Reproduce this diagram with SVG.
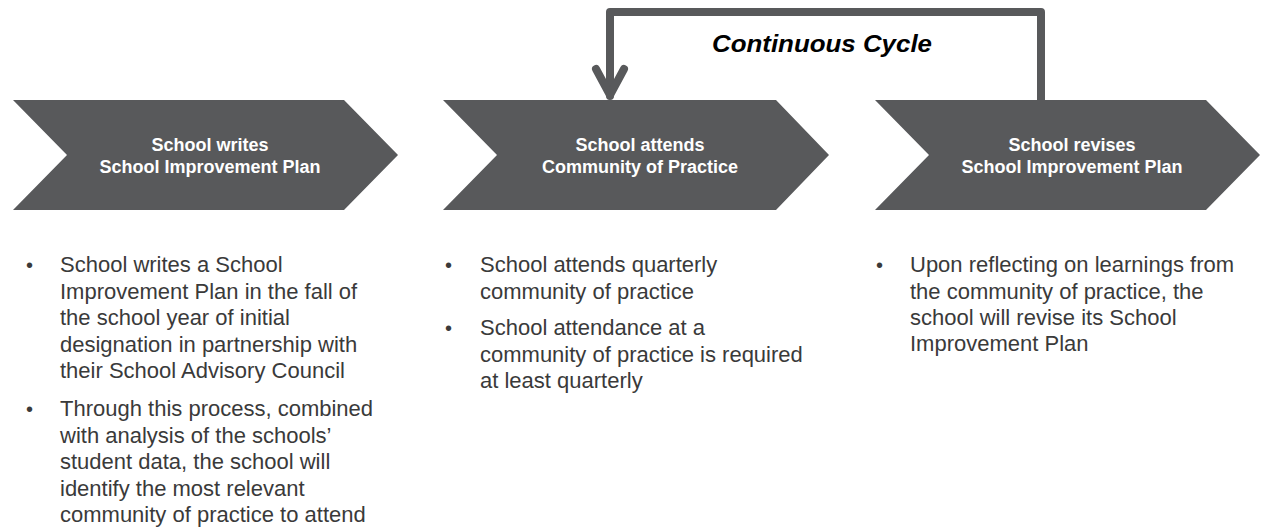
<svg xmlns="http://www.w3.org/2000/svg" width="1261" height="527" viewBox="0 0 1261 527">
<style>
.chev{fill:#58595b;}
.ct{font-family:"Liberation Sans",Arial,sans-serif;font-weight:bold;font-size:18px;fill:#ffffff;text-anchor:middle;}
.bt{font-family:"Liberation Sans",Arial,sans-serif;font-size:22px;fill:#3a3a3a;}
.bl{font-family:"Liberation Sans",Arial,sans-serif;font-size:20px;fill:#3a3a3a;}
.cyc{font-family:"Liberation Sans",Arial,sans-serif;font-weight:bold;font-style:italic;font-size:23px;fill:#000000;}
.conn{fill:none;stroke:#58595b;stroke-width:8;stroke-linejoin:round;stroke-linecap:round;}
</style>
<rect width="1261" height="527" fill="#ffffff"/>
<g id="connectors">
<path class="conn" d="M1041,100 V12 H610 V96"/>
<path class="conn" d="M596,69 L610,95 L624,69"/>
<text class="cyc" x="712" y="52" textLength="220" lengthAdjust="spacingAndGlyphs">Continuous Cycle</text>
</g>
<g id="node1">
<polygon class="chev" points="13,100 344,100 398,155 344,210 13,210 67,155"/>
<text class="ct" x="210" y="151">School writes</text>
<text class="ct" x="210" y="173">School Improvement Plan</text>
</g>
<g id="node2">
<polygon class="chev" points="443,100 776,100 829,155 776,210 443,210 497,155"/>
<text class="ct" x="640" y="151">School attends</text>
<text class="ct" x="640" y="173">Community of Practice</text>
</g>
<g id="node3">
<polygon class="chev" points="875,100 1206,100 1260,155 1206,210 875,210 929,155"/>
<text class="ct" x="1072" y="151">School revises</text>
<text class="ct" x="1072" y="173">School Improvement Plan</text>
</g>
<g id="text1">
<text class="bl" x="26" y="272">•</text>
<text class="bt" x="60" y="272">School writes a School</text>
<text class="bt" x="60" y="299">Improvement  Plan in the fall of</text>
<text class="bt" x="60" y="325">the school year of initial</text>
<text class="bt" x="60" y="352">designation in partnership with</text>
<text class="bt" x="60" y="378">their School Advisory Council</text>
<text class="bl" x="26" y="416">•</text>
<text class="bt" x="60" y="416">Through this process, combined</text>
<text class="bt" x="60" y="443">with analysis of the schools’</text>
<text class="bt" x="60" y="469">student data, the school will</text>
<text class="bt" x="60" y="496">identify the most relevant</text>
<text class="bt" x="60" y="522">community of practice to attend</text>
</g>
<g id="text2">
<text class="bl" x="445" y="272">•</text>
<text class="bt" x="480" y="272">School attends quarterly</text>
<text class="bt" x="480" y="299">community of practice</text>
<text class="bl" x="445" y="335">•</text>
<text class="bt" x="480" y="335">School attendance at a</text>
<text class="bt" x="480" y="362">community of practice is required</text>
<text class="bt" x="480" y="388">at least quarterly</text>
</g>
<g id="text3">
<text class="bl" x="876" y="272">•</text>
<text class="bt" x="910" y="272">Upon reflecting on learnings from</text>
<text class="bt" x="910" y="299">the community of practice, the</text>
<text class="bt" x="910" y="325">school will revise its School</text>
<text class="bt" x="910" y="351">Improvement  Plan</text>
</g>
</svg>
